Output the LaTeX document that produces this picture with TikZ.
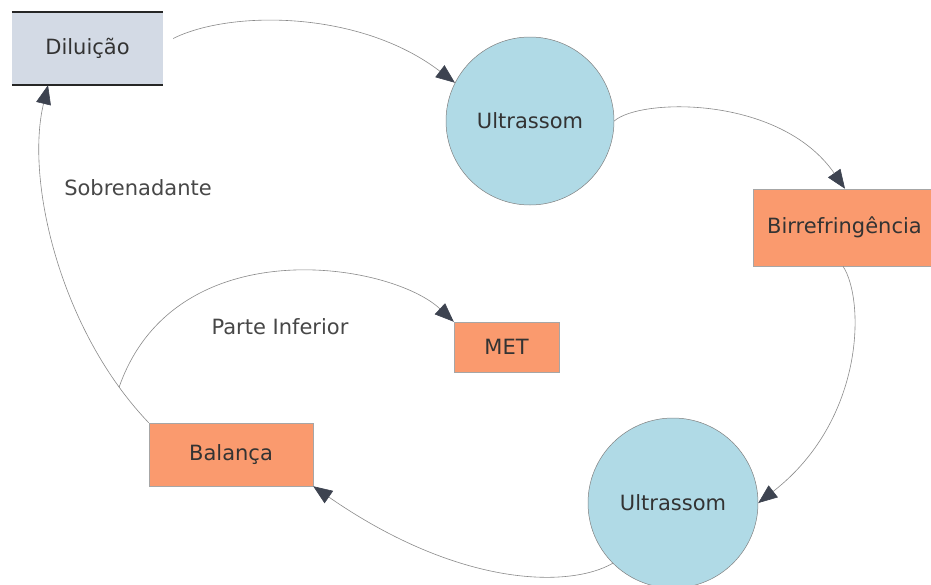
\documentclass[tikz,border=0pt]{standalone}
\usepackage{fontspec}
\setmainfont{DejaVu Sans}
\usetikzlibrary{arrows.meta}
\definecolor{dilfill}{HTML}{D3DAE5}
\definecolor{circfill}{HTML}{B0DAE6}
\definecolor{orangefill}{HTML}{FA9A6E}
\definecolor{edgegray}{HTML}{8A8A8A}
\definecolor{tipcol}{HTML}{3D4350}
\definecolor{txt}{HTML}{333333}
\tikzset{
  every node/.style={font=\fontsize{21}{25}\selectfont, text=txt, inner sep=0pt},
  procbox/.style={rectangle, fill=orangefill, draw=gray!70, line width=0.5pt},
  circnode/.style={circle, fill=circfill, draw=gray, line width=0.5pt},
  storebox/.style={rectangle, fill=dilfill},
  flow/.style={draw=edgegray, line width=0.6pt, -{Triangle[length=19pt,width=15pt,fill=tipcol,color=tipcol]}},
  lbl/.style={text=txt!90}
}
\begin{document}
\begin{tikzpicture}[x=1pt,y=-1pt]
\clip (0,0) rectangle (931,584);
\fill[white] (0,0) rectangle (931,584);
% nodes
\node[storebox, minimum width=151pt, minimum height=73pt] (dil) at (87.5,48.5) {Diluição};
\draw[line width=2.5pt, black!85] (dil.north west) -- (dil.north east);
\draw[line width=2.5pt, black!85] (dil.south west) -- (dil.south east);
\node[circnode, minimum size=168pt] (u1) at (530,121) {Ultrassom};
\node[procbox, minimum width=183pt, minimum height=77pt] (bir) at (844.5,227.5) {Birrefringência};
\node[procbox, minimum width=105pt, minimum height=50pt] (met) at (506.5,347) {MET};
\node[procbox, minimum width=164pt, minimum height=63pt] (bal) at (231,454.5) {Balança};
\node[circnode, minimum size=170pt] (u2) at (673,503) {Ultrassom};
% labels
\node[lbl] (sob) at (138,188) {Sobrenadante};
\node[lbl] (parte) at (280,327) {Parte Inferior};
% connectors
\draw[flow] ([shift={(10,-10)}]dil.east) .. controls (230,10) and (360,10) .. (u1.153);
\draw[flow] (u1.east) .. controls (640,98) and (780,95) .. ([xshift=0.5pt]bir.north);
\draw[flow] ([xshift=-1.5pt]bir.south) .. controls (865,300) and (865,420) .. (u2.east);
\draw[flow] (u2.225) .. controls (570,588) and (460,588) .. (bal.south east);
\draw[flow] (bal.north west) .. controls (60,330) and (25,180) .. coordinate[pos=0.12] (j) ([xshift=-39.5pt]dil.south);
\draw[flow] (j) .. controls (175,228) and (390,262) .. (met.north west);
\end{tikzpicture}
\end{document}
